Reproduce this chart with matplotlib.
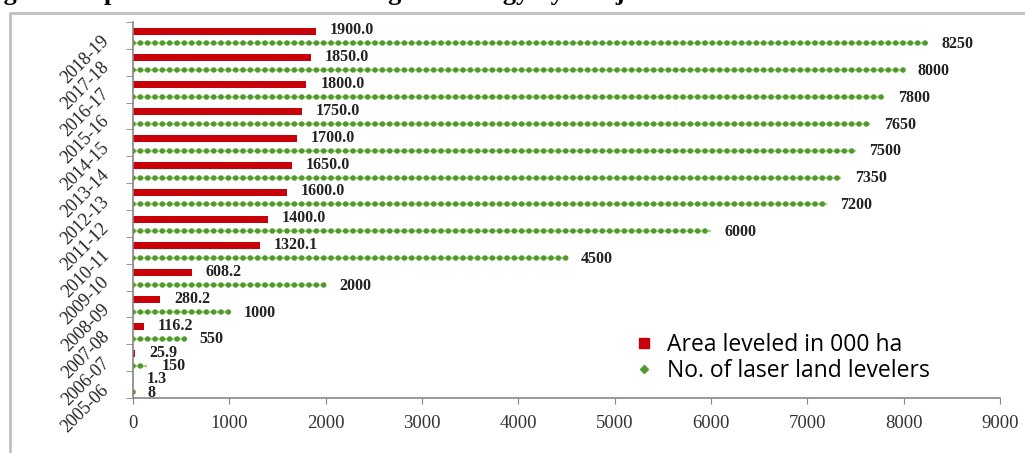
import matplotlib.pyplot as plt
from matplotlib.lines import Line2D
import numpy as np

years = ['2005-06', '2006-07', '2007-08', '2008-09', '2009-10', '2010-11', '2011-12',
         '2012-13', '2013-14', '2014-15', '2015-16', '2016-17', '2017-18', '2018-19']
area = [1.3, 25.9, 116.2, 280.2, 608.2, 1320.1, 1400.0, 1600.0, 1650.0, 1700.0,
        1750.0, 1800.0, 1850.0, 1900.0]
levelers = [8, 150, 550, 1000, 2000, 4500, 6000, 7200, 7350, 7500, 7650, 7800, 8000, 8250]
x_ticks = list(range(0, 9001, 1000))

serif = 'Liberation Serif'
red = '#c8000a'
green = '#4f9a2c'

fig = plt.figure(figsize=(10.25, 4.53), dpi=100)
ax = fig.add_axes([133/1025, 55/453, 867/1025, 376/453])

y = np.arange(len(years))
y_red = y + 0.16
y_green = y - 0.29
ax.barh(y_red, area, height=0.26, color=red)
ax.hlines(y_green, 0, levelers, color='#a6d57a', lw=1.6)
ax.hlines(y_green, 0, levelers, color=green, lw=4,
          linestyles=[(0, (0.01, 1.31))], capstyle='round')

# value labels
for yi, v in zip(y_red, area):
    ax.annotate(f"{v:.1f}", (v, yi + 0.03), xytext=(10, 0), textcoords='offset points',
                va='center', ha='left', fontsize=11.5, fontweight='bold',
                family=serif, color='#222222')
for yi, v in zip(y_green, levelers):
    ax.annotate(f"{v}", (v, yi - 0.03), xytext=(10, 0), textcoords='offset points',
                va='center', ha='left', fontsize=11.5, fontweight='bold',
                family=serif, color='#222222')

ax.set_xlim(0, 9000)
ax.set_ylim(-0.5, len(years) - 0.5)
ax.set_xticks(x_ticks)
ax.set_xticklabels([str(t) for t in x_ticks], family=serif, fontsize=13.5, color='#333333')
ax.set_yticks(y - 0.1)
ax.set_yticklabels(years, rotation=45, ha='right', va='center', rotation_mode='anchor',
                   family=serif, fontsize=13, color='#222222')
ax.set_yticks(np.arange(-0.5, len(years), 1), minor=True)
ax.tick_params(axis='y', which='major', length=0, pad=19)
ax.tick_params(axis='y', which='minor', length=5, color='#868686')
ax.tick_params(axis='x', length=4, color='#868686', pad=8)

for s in ['top', 'right']:
    ax.spines[s].set_visible(False)
for s in ['left', 'bottom']:
    ax.spines[s].set_color('#868686')
    ax.spines[s].set_linewidth(1.2)

handles = [Line2D([], [], ls='none', marker='s', ms=7, color=red),
           Line2D([], [], ls='none', marker='D', ms=4, color=green)]
ax.legend(handles, ['Area leveled in 000 ha', 'No. of laser land levelers'],
          loc='center left', bbox_to_anchor=(612/1025, 1 - 358/453),
          bbox_transform=fig.transFigure, frameon=False, handlelength=1,
          handletextpad=0.5, labelspacing=0.05,
          prop={'family': 'Open Sans', 'size': 16.5})

# chart frame and cut-off caption above it
fig.add_artist(Line2D([10/1025, 10/1025, 1], [0, 1 - 13/453, 1 - 13/453],
                      color='#c0c0c0', lw=2))
fig.text(-20/1025, 1.0, 'Fig. 5: Adoption of laser land leveling technology by Punjab farmers',
         family=serif, fontweight='bold', fontsize=19, va='baseline', ha='left')

fig.savefig('out.png', dpi=100)
